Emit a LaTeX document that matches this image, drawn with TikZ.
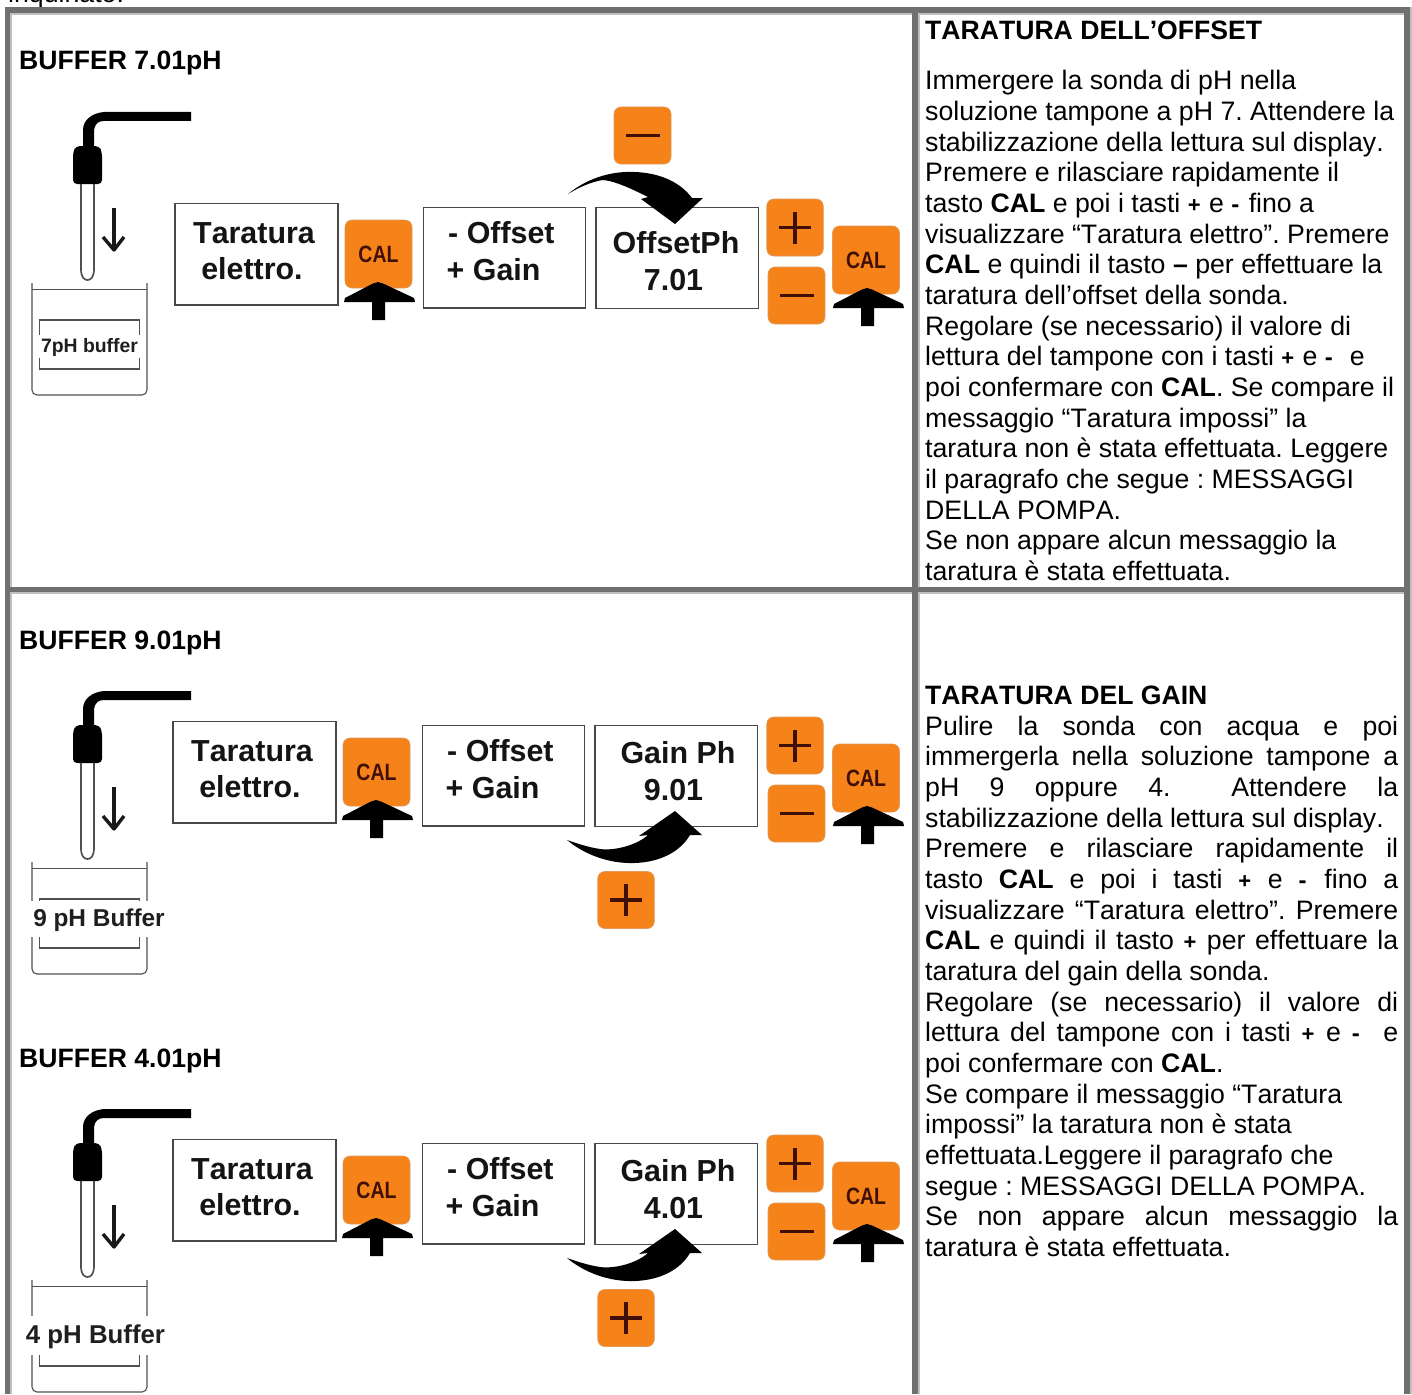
\documentclass[tikz,border=0pt]{standalone}
\usepackage{fontspec}
\setmainfont{Liberation Sans}[Kerning=Off,Ligatures=NoCommon]
\definecolor{framedark}{HTML}{707070}
\definecolor{framelight}{HTML}{C0C0C0}
\definecolor{btnorange}{HTML}{F6821A}
\definecolor{btnink}{HTML}{401008}
\definecolor{boxline}{HTML}{484848}
\definecolor{glassline}{HTML}{505050}
\newcommand{\bodysize}{\fontsize{26.7}{30.7}\selectfont}
\newcommand{\lineL}[1]{\hbox{#1}}
\newcommand{\lineJ}[1]{\hbox to 473pt{#1}}
\newcommand{\sgnp}{{\fontsize{22}{22}\selectfont\bfseries +}\kern1pt}
\newcommand{\sgnm}{{\fontsize{24}{24}\selectfont\bfseries -}\kern2pt}
\newcommand{\cell}[4]{%
  \fill[framelight] (#1,#2) rectangle (#3,#4);
  \fill[white] (#1+1.8,#2+1.8) rectangle (#3,#4);}
\newcommand{\wbtn}[5]{\node[keybtn,minimum width=#4pt,minimum height=#5pt] (#1) at (#2,#3) {};}
% plus / minus button: name, cx, cy
\newcommand{\plusbtn}[3]{\wbtn{#1}{#2}{#3}{56.5}{57}
  \draw[keyink] (#2-16,#3) -- (#2+16,#3) (#2,#3-16) -- (#2,#3+16);}
\newcommand{\minusbtn}[3]{\wbtn{#1}{#2}{#3}{57}{57}
  \draw[keyink] (#2-17,#3) -- (#2+17,#3);}
% CAL button with black arrow: name, x of button left, y of button top, arrow shift
\newcommand{\calbtn}[4]{%
  \node[keybtn,minimum width=67pt,minimum height=68pt,font=\fontsize{20.5}{20.5}\selectfont\bfseries,text=btnink] (#1) at (#2+33.5,#3+33) {\scalebox{.95}[1.15]{CAL}};
  \fill[black] (#2+#4,#3+61) -- (#2+#4+5,#3+62.5) -- (#2+#4+36,#3+77) -- (#2+#4+37,#3+81) -- (#2+#4+7,#3+81) -- (#2+#4+7,#3+99) -- (#2+#4-6,#3+99) -- (#2+#4-6,#3+81) -- (#2+#4-34,#3+81) -- (#2+#4-33,#3+77) -- (#2+#4-5,#3+62.5) -- cycle;}
% probe and beaker: dy
\newcommand{\probe}[1]{%
  \begin{scope}[shift={(0,#1)}]
  \fill[black] (191,112) -- (104,112) .. controls (92,113) and (83,120) .. (83,130) -- (83,150) -- (94,150) -- (94,130) .. controls (95,124) and (98,121) .. (104,121) -- (191,121) -- cycle;
  \fill[black,rounded corners=4pt] (76,146) -- (99,146) -- (102,152) -- (102,184) -- (73,184) -- (73,152) -- cycle;
  \draw[glassline,line width=1.7pt] (81,184) -- (81,269) .. controls (81,277) and (84,280) .. (87.5,280) .. controls (91,280) and (94,277) .. (94,269) -- (94,184);
  \draw[black!90,line width=3.4pt] (114,208) -- (114,249);
  \draw[black!90,line width=3.4pt,line join=round] (103,237) -- (114,250) -- (124,237);
  \draw[glassline,line width=1.1pt,rounded corners=5pt] (32,283) -- (32,395) -- (147,395) -- (147,283);
  \draw[glassline,line width=1.8pt] (32,289.5) -- (147,289.5);
  \draw[glassline,line width=1.1pt] (39.5,320) rectangle (139.5,369);
  \end{scope}}
% display box: name, x1, y1, x2, y2
\newcommand{\dispbox}[5]{\node[dispstyle,minimum width={((#4)-(#2))*1pt},minimum height={((#5)-(#3))*1pt}] (#1) at ({((#2)+(#4))/2},{((#3)+(#5))/2}) {};}
% row of boxes and keys: id, dy, dx of left group, dx of middle group, value title, x, value, x
\newcommand{\panelrow}[8]{%
  \begin{scope}[shift={(0,#2)}]
  \dispbox{#1a}{175+#3}{203.5}{338+#3}{305}
  \node[disptext] (#1at) at (254+#3,243) {Taratura};
  \node[disptext] (#1ae) at (252+#3,279) {elettro.};
  \calbtn{#1cal}{345+#3}{221}{33}
  \dispbox{#1b}{423.3+#4}{207.5}{585.7+#4}{308}
  \node[disptext,anchor=base west] (#1bo) at (448+#4,243) {- Offset};
  \node[disptext,anchor=base west] (#1bg) at (446.5+#4,280) {+ Gain};
  \dispbox{#1c}{596+#4}{207.5}{758.5+#4}{308.5}
  \node[disptext] (#1ct) at (#6,#7) {#5};
  \node[disptext] (#1cv) at (673.5,#7+37) {#8};
  \plusbtn{#1p}{795}{227.5}
  \minusbtn{#1m}{796.5}{295.5}
  \calbtn{#1calb}{832.5}{227}{34.5}
  \end{scope}}
% lower curved arrow with plus key
\newcommand{\lowerarrow}[2]{%
  \begin{scope}[shift={(0,#2)}]
  \fill[black] (567,840) .. controls (585,855) and (610,864) .. (635,863) .. controls (660,862) and (680,852) .. (690,835) -- (702,835) -- (675,811) -- (639,836) -- (648,835) .. controls (637,845) and (615,851) .. (600,849) .. controls (587,847) and (576,843) .. (567,840) -- cycle;
  \plusbtn{#1}{626}{900}
  \end{scope}}
\tikzset{
  keybtn/.style={fill=btnorange,draw=btnorange!85!black!70,line width=0.6pt,rounded corners=7pt,inner sep=0pt},
  keyink/.style={btnink,line width=3.2pt},
  dispstyle/.style={draw=boxline,line width=1.1pt,fill=white,inner sep=0pt},
  disptext/.style={anchor=base,inner sep=0pt,text=black!92,font=\fontsize{30.4}{36}\selectfont\bfseries},
  heading/.style={anchor=base west,inner sep=0pt,font=\fontsize{26.6}{30.7}\selectfont\bfseries},
  bodytext/.style={anchor=base west,inner sep=0pt,font=\bodysize},
  labeltext/.style={anchor=base,inner sep=0pt,text=black!88,font=\bfseries},
}
\begin{document}
\begin{tikzpicture}[x=1pt,y=-1pt]
\useasboundingbox (0,0) rectangle (1412,1394);
\fill[white] (0,0) rectangle (1412,1394);
\node[bodytext] (topline) at (8,3) {inquinato:};
% table
\fill[framedark] (5,7) rectangle (1410,1394);
\fill[framelight] (1410,7) rectangle (1412,1394);
\cell{10}{13}{912}{587}
\cell{918}{13}{1404}{587}
\cell{10}{592}{912}{1394}
\cell{918}{592}{1404}{1394}
% left headings
\node[heading] (h1) at (19,70) {BUFFER 7.01pH};
\node[heading] (h2) at (19,649) {BUFFER 9.01pH};
\node[heading] (h3) at (19,1067) {BUFFER 4.01pH};
% probes and beakers
\probe{0}
\node[labeltext,font=\fontsize{19.4}{20}\selectfont\bfseries] (b1) at (89.5,352) {\fboxsep=0pt\colorbox{white}{\rule{0pt}{17pt}\rule[-6pt]{0pt}{6pt}\,7pH buffer\,}};
\probe{579}
\fill[white] (30,901) rectangle (168,937);
\node[labeltext,font=\fontsize{24.4}{25}\selectfont\bfseries] (b2) at (99,926) {9 pH Buffer};
\probe{997}
\fill[white] (24,1316) rectangle (170,1355);
\node[labeltext,font=\fontsize{25.8}{26}\selectfont\bfseries] (b3) at (95.5,1343) {4 pH Buffer};
% panels
\panelrow{u}{0}{0}{0}{OffsetPh}{676}{253}{7.01}
\panelrow{m}{518}{-2}{-1}{Gain Ph}{678}{245}{9.01}
\panelrow{l}{936}{-2}{-1}{Gain Ph}{678}{245}{4.01}
% upper curved arrow with minus key
\minusbtn{topminus}{642.5}{135.5}
\fill[black] (568,194) .. controls (590,176) and (615,171) .. (635,172) .. controls (660,173) and (680,182) .. (692,198) -- (703,198) -- (675,224) -- (641,199) -- (648,197) .. controls (632,189) and (615,181) .. (603,180) .. controls (590,182) and (578,188) .. (568,194) -- cycle;
\lowerarrow{mplus}{0}
\lowerarrow{lplus}{418}
% right column
\node[heading] (t1) at (925,40) {TARATURA DELL’OFFSET};
\node[bodytext] (t2) at (925,89.7) {\vtop{\baselineskip=30.68pt\lineskiplimit=-100pt\frenchspacing
\lineL{Immergere la sonda di pH nella}
\lineL{soluzione tampone a pH 7. Attendere la}
\lineL{stabilizzazione della lettura sul display.}
\lineL{Premere e rilasciare rapidamente il}
\lineL{tasto \textbf{CAL} e poi i tasti \sgnp{} e \sgnm{} fino a}
\lineL{visualizzare “Taratura elettro”. Premere}
\lineL{\textbf{CAL} e quindi il tasto \textbf{–} per effettuare la}
\lineL{taratura dell’offset della sonda.}
\lineL{Regolare (se necessario) il valore di}
\lineL{lettura del tampone con i tasti \sgnp{} e \sgnm{}\ \ e}
\lineL{poi confermare con \textbf{CAL}. Se compare il}
\lineL{messaggio “Taratura impossi” la}
\lineL{taratura non è stata effettuata. Leggere}
\lineL{il paragrafo che segue : MESSAGGI}
\lineL{DELLA POMPA.}
\lineL{Se non appare alcun messaggio la}
\lineL{taratura è stata effettuata.}
}};
\node[heading] (t3) at (925,704) {TARATURA DEL GAIN};
\node[bodytext] (t4) at (925,735) {\vtop{\baselineskip=30.68pt\lineskiplimit=-100pt\frenchspacing
\lineJ{Pulire la sonda con acqua e poi}
\lineJ{immergerla nella soluzione tampone a}
\lineJ{pH 9 oppure 4.\ \ Attendere la}
\lineL{stabilizzazione della lettura sul display.}
\lineJ{Premere e rilasciare rapidamente il}
\lineJ{tasto \textbf{CAL} e poi i tasti \sgnp{} e \sgnm{} fino a}
\lineJ{visualizzare “Taratura elettro”. Premere}
\lineJ{\textbf{CAL} e quindi il tasto \sgnp{} per effettuare la}
\lineL{taratura del gain della sonda.}
\lineJ{Regolare (se necessario) il valore di}
\lineJ{lettura del tampone con i tasti \sgnp{} e \sgnm{}\ \ e}
\lineL{poi confermare con \textbf{CAL}.}
\lineL{Se compare il messaggio “Taratura}
\lineL{impossi” la taratura non è stata}
\lineL{effettuata.Leggere il paragrafo che}
\lineL{segue : MESSAGGI DELLA POMPA.}
\lineJ{Se non appare alcun messaggio la}
\lineL{taratura è stata effettuata.}
}};
\end{tikzpicture}
\end{document}
